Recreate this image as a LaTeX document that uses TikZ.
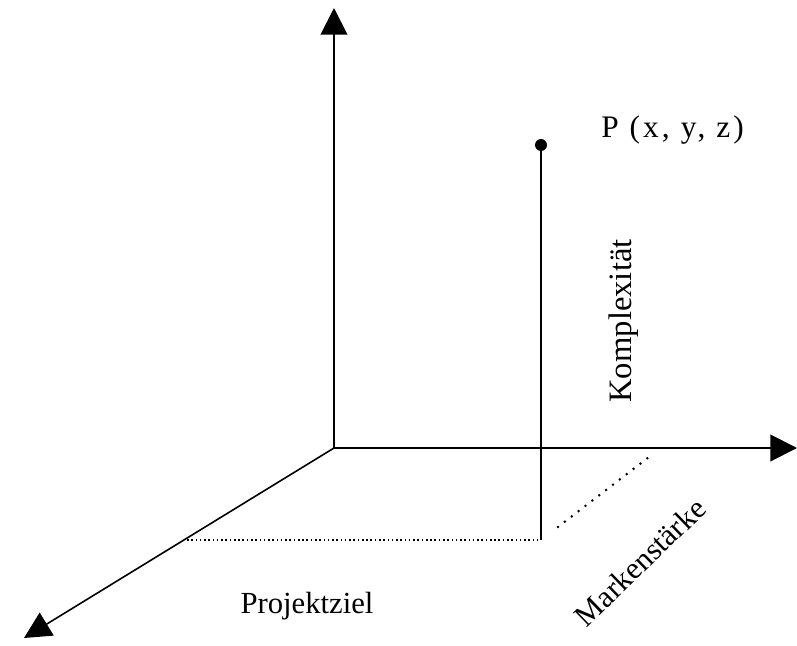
\documentclass[tikz,border=0pt]{standalone}
\usepackage{fontspec}
\setmainfont{Liberation Serif}
\usetikzlibrary{arrows.meta,positioning,calc}

\begin{document}
\begin{tikzpicture}[x=0.75pt,y=-0.75pt,
  axis/.style={line width=1.5pt,-{Triangle[width=20pt,length=20pt]}},
  lbl/.style={font=\fontsize{23}{28}\selectfont}]
  \useasboundingbox (0,0) rectangle (797,646);
  \coordinate (O) at (334,448);
  \coordinate (ztip) at (334,8);
  \coordinate (xtip) at (797,448);
  \coordinate (ytip) at (24,638);
  \coordinate (P) at (541,145);
  \coordinate (foot) at (541,540);
  \coordinate (footy) at (187,540);
  \coordinate (footm) at (649,457);
  % axes
  \draw[axis] (O) -- (ztip);
  \draw[axis] (O) -- (xtip);
  \draw[axis,line width=1.2pt] (O) -- (ytip);
  % point and projection
  \draw[line width=1.5pt] (P) -- (foot);
  \fill (P) circle (4.5pt);
  \draw[line width=1.2pt,dotted] (footy) -- (foot);
  \draw[line width=1.5pt,dash pattern=on 1.5pt off 5pt] ($(foot)!0.15!(footm)$) -- (footm);
  % labels
  \node[font=\fontsize{23.5}{27}\selectfont\addfontfeature{LetterSpace=10},anchor=base west,inner sep=0pt] (plabel) at (601,137) {P (x, y, z)};
  \node[lbl,font=\fontsize{24.5}{28}\selectfont,rotate=90] (zlabel) at (624,321) {Komplexität};
  \node[lbl,anchor=base] (ylabel) at (307,613) {Projektziel};
  \node[lbl,rotate=44] (mlabel) at (640,562) {Markenstärke};
\end{tikzpicture}
\end{document}
